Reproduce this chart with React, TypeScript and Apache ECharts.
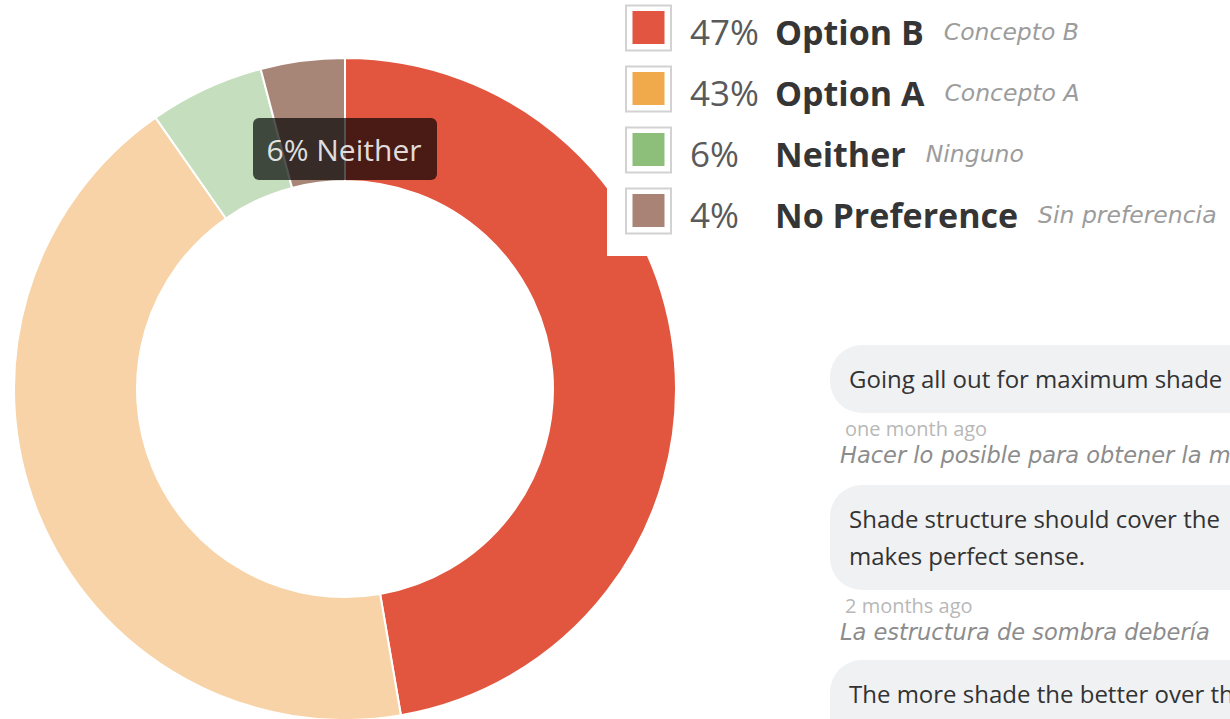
import React, { useEffect, useRef } from "react";
import * as echarts from "echarts";

const categories = ["Option B", "Option A", "Neither", "No Preference"];
const spanishLabels = ["Concepto B", "Concepto A", "Ninguno", "Sin preferencia"];
const values = [47.3, 43.0, 5.6, 4.1];
const sliceColors = ["#E2553E", "#F7D3A7", "#C5DFBE", "#A88677"];
const legendColors = ["#E25540", "#F0A94B", "#8DBF7B", "#A98476"];

const tooltipIndex = 2;

const commentLines = [
  ["Going all out for maximum shade"],
  ["Shade structure should cover the", "makes perfect sense."],
  ["The more shade the better over th"],
];
const commentDates = ["one month ago", "2 months ago", ""];
const commentSpanish = ["Hacer lo posible para obtener la m", "La estructura de sombra debería", ""];

export default function App() {
  const ref = useRef<HTMLDivElement>(null);
  useEffect(() => {
    if (!ref.current) return;
    const chart = echarts.init(ref.current, null, { renderer: "svg" });
    const total = values.reduce((a, b) => a + b, 0);
    const font = "'Open Sans', sans-serif";
    const esFont = "'DejaVu Sans', sans-serif";

    const elements: any[] = [];
    // legend white panel
    elements.push({ type: "rect", z: 100, shape: { x: 607, y: 0, width: 623, height: 256 }, style: { fill: "#ffffff" } });
    categories.forEach((c, i) => {
      const cy = 27.5 + i * 61;
      elements.push({ type: "rect", z: 101, shape: { x: 626, y: cy - 22, width: 45, height: 45 }, style: { fill: "#fff", stroke: "#d2d2d2", lineWidth: 2 } });
      elements.push({ type: "rect", z: 102, shape: { x: 632.5, y: cy - 16.5, width: 32, height: 33 }, style: { fill: legendColors[i] } });
      const pct = Math.round((values[i] / total) * 100) + "%";
      elements.push({
        type: "text", z: 102, x: 690, y: cy + 4,
        style: {
          text: `{p|${pct}}{l|${c}}{s|${spanishLabels[i]}}`,
          verticalAlign: "middle",
          rich: {
            p: { width: 85, fontSize: 35, fontFamily: font, fill: "#5a5a5a", verticalAlign: "middle" },
            l: { fontSize: 34, fontFamily: font, fontWeight: "bold", fill: "#353535", padding: [0, 20, 0, 0], verticalAlign: "middle" },
            s: { fontSize: 23.5, fontFamily: esFont, fontStyle: "italic", fill: "#9c9c9c", verticalAlign: "middle" },
          },
        },
      });
    });

    // comments
    const bubbleTops = [345, 485, 660];
    commentLines.forEach((lines, i) => {
      const top = bubbleTops[i];
      const h = lines.length === 1 ? 68 : 105;
      elements.push({ type: "rect", z: 50, shape: { x: 830, y: top, width: 500, height: i === 2 ? 90 : h, r: 32 }, style: { fill: "#F0F1F3" } });
      lines.forEach((ln, j) => {
        elements.push({ type: "text", z: 51, x: 849, y: top + 33 + j * 37, style: { text: ln, fontSize: 24, fontFamily: font, fill: "#333", verticalAlign: "middle" } });
      });
      if (commentDates[i]) {
        elements.push({ type: "text", z: 51, x: 845, y: top + h + 15, style: { text: commentDates[i], fontSize: 20, fontFamily: font, fill: "#b8b8b8", verticalAlign: "middle" } });
      }
      if (commentSpanish[i]) {
        elements.push({ type: "text", z: 51, x: 840, y: top + h + 42, style: { text: commentSpanish[i], fontSize: 22.5, fontFamily: esFont, fontStyle: "italic", fill: "#8c8c8c", verticalAlign: "middle" } });
      }
    });

    // tooltip
    const tipText = Math.round((values[tooltipIndex] / total) * 100) + "% " + categories[tooltipIndex];
    elements.push({ type: "rect", z: 120, shape: { x: 253, y: 118, width: 184, height: 62, r: 6 }, style: { fill: "rgba(0,0,0,0.68)" } });
    elements.push({ type: "text", z: 121, x: 344, y: 149, style: { text: tipText, fontSize: 30, fontFamily: font, fill: "rgba(255,255,255,0.86)", align: "center", verticalAlign: "middle" } });

    chart.setOption({
      animation: false,
      backgroundColor: "#ffffff",
      series: [
        {
          type: "pie",
          radius: [208, 331],
          center: [345, 389],
          startAngle: 90,
          clockwise: true,
          silent: true,
          label: { show: false },
          labelLine: { show: false },
          itemStyle: { borderColor: "#ffffff", borderWidth: 2 },
          data: categories.map((c, i) => ({ name: c, value: values[i], itemStyle: { color: sliceColors[i] } })),
        },
      ],
      graphic: { elements },
    });
    return () => chart.dispose();
  }, []);
  return <div ref={ref} style={{ position: "fixed", left: 0, top: 0, width: 1230, height: 719 }} />;
}
